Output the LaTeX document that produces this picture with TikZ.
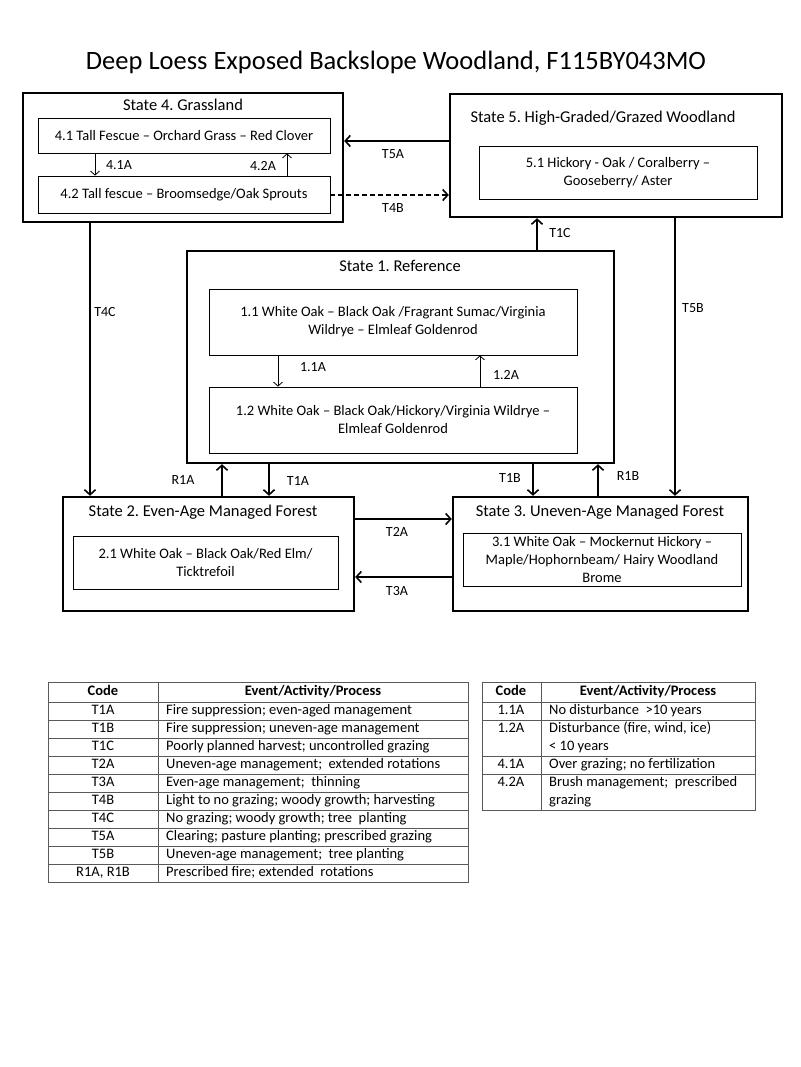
\documentclass[tikz,border=0pt]{standalone}
\usepackage{fontspec}
\setmainfont{Carlito}
\usetikzlibrary{arrows.meta}
\frenchspacing
\begin{document}
\begin{tikzpicture}[x=1pt, y=-1pt,
  state/.style={draw, line width=2.4pt, inner sep=0pt},
  sub/.style={draw, line width=0.8pt, inner sep=0pt, align=center, font=\fontsize{14.5}{18}\selectfont},
  stitle/.style={font=\fontsize{16.5}{19}\selectfont},
  lbl/.style={font=\fontsize{14}{16}\selectfont},
  cell/.style={font=\fontsize{14.5}{17}\selectfont, inner sep=0pt, text height=9.5pt, text depth=3pt},
  trans/.style={line width=1.6pt, -{Straight Barb[length=5pt,width=11pt]}},
  phase/.style={line width=0.8pt, -{Straight Barb[length=4pt,width=9pt]}},
  tline/.style={draw=black!65, line width=1pt}]
		\fill[white] (0,0) rectangle (800,1067);
		\useasboundingbox (0,0) rectangle (800,1067);
		\node (title) at (396,62) {\fontsize{26.5}{30}\selectfont Deep Loess Exposed Backslope Woodland, F115BY043MO};
		\node[state, minimum width=320pt, minimum height=129pt] (S4) at (183,157.5) {};
		\node[stitle] (S4t) at (183,105) {State 4. Grassland};
		\node[sub, minimum width=292pt, minimum height=35pt] (B41) at (184,135.5) {4.1 Tall Fescue – Orchard Grass – Red Clover};
		\node[sub, minimum width=292pt, minimum height=37pt] (B42) at (184,194.5) {4.2 Tall fescue – Broomsedge/Oak Sprouts};
		\node[state, minimum width=332pt, minimum height=123pt] (S5) at (616,155.5) {};
		\node[stitle] (S5t) at (603,118) {State 5. High-Graded/Grazed Woodland};
		\node[sub, minimum width=278pt, minimum height=53pt] (B51) at (618,172.5) {5.1 Hickory - Oak / Coralberry –\\Gooseberry/ Aster};
		\node[state, minimum width=427pt, minimum height=212pt] (S1) at (400.5,357) {};
		\node[stitle] (S1t) at (400,266) {State 1. Reference};
		\node[sub, minimum width=368pt, minimum height=66pt] (B11) at (393,322) {1.1 White Oak – Black Oak /Fragrant Sumac/Virginia\\Wildrye – Elmleaf Goldenrod};
		\node[sub, minimum width=368pt, minimum height=66pt] (B12) at (393,420) {1.2 White Oak – Black Oak/Hickory/Virginia Wildrye –\\Elmleaf Goldenrod};
		\node[state, minimum width=291pt, minimum height=114pt] (S2) at (208.5,554) {};
		\node[stitle] (S2t) at (203,512) {State 2. Even-Age Managed Forest};
		\node[sub, minimum width=265pt, minimum height=53pt] (B21) at (205.5,562.5) {2.1 White Oak – Black Oak/Red Elm/\\Ticktrefoil};
		\node[state, minimum width=295pt, minimum height=114pt] (S3) at (600.5,554) {};
		\node[stitle] (S3t) at (600,512) {State 3. Uneven-Age Managed Forest};
		\node[sub, minimum width=278pt, minimum height=53pt] (B31) at (602,559.5) {3.1 White Oak – Mockernut Hickory –\\Maple/Hophornbeam/ Hairy Woodland\\Brome};
		\coordinate (a41) at (95,0);
		\coordinate (a42) at (287,0);
		\coordinate (a11) at (278,0);
		\coordinate (a12) at (480,0);
		\coordinate (r1a) at (222,0);
		\coordinate (t1a) at (269,0);
		\coordinate (t1b) at (533,0);
		\coordinate (r1b) at (598,0);
		\coordinate (t1c) at (537,0);
		\coordinate (t5b) at (675,0);
		\coordinate (t4c) at (90,0);
		\coordinate (t5a) at (0,141);
		\coordinate (t4b) at (0,195);
		\coordinate (t2a) at (0,519);
		\coordinate (t3a) at (0,577);
		\draw[phase] (B41.south -| a41) -- (B42.north -| a41);
		\draw[phase] (B42.north -| a42) -- (B41.south -| a42);
		\draw[phase] (B11.south -| a11) -- (B12.north -| a11);
		\draw[phase] (B12.north -| a12) -- (B11.south -| a12);
		\draw[trans] (S5.west |- t5a) -- (S4.east |- t5a);
		\draw[trans, dash pattern=on 5pt off 3pt] (B42.east |- t4b) -- (S5.west |- t4b);
		\draw[trans] (S1.north -| t1c) -- (S5.south -| t1c);
		\draw[trans] (S5.south -| t5b) -- (S3.north -| t5b);
		\draw[trans] (S4.south -| t4c) -- (S2.north -| t4c);
		\draw[trans] (S2.north -| r1a) -- (S1.south -| r1a);
		\draw[trans] (S1.south -| t1a) -- (S2.north -| t1a);
		\draw[trans] (S1.south -| t1b) -- (S3.north -| t1b);
		\draw[trans] (S3.north -| r1b) -- (S1.south -| r1b);
		\draw[trans] (S2.east |- t2a) -- (S3.west |- t2a);
		\draw[trans] (S3.west |- t3a) -- (S2.east |- t3a);
		\node[lbl] (l41) at (119,165) {4.1A};
		\node[lbl] (l42) at (263,166) {4.2A};
		\node[lbl] (l11) at (313,367) {1.1A};
		\node[lbl] (l12) at (506,375) {1.2A};
		\node[lbl] (lt5a) at (393,154) {T5A};
		\node[lbl] (lt4b) at (393,208) {T4B};
		\node[lbl] (lt1c) at (560,233) {T1C};
		\node[lbl] (lt5b) at (693,308) {T5B};
		\node[lbl] (lt4c) at (105,312) {T4C};
		\node[lbl] (lr1a) at (183,480) {R1A};
		\node[lbl] (lt1a) at (298,481) {T1A};
		\node[lbl] (lt1b) at (510,478) {T1B};
		\node[lbl] (lr1b) at (628,476) {R1B};
		\node[lbl] (lt2a) at (397,532) {T2A};
		\node[lbl] (lt3a) at (397,591) {T3A};
		\draw[tline] (48,682) rectangle (468,882);
		\draw[tline] (158,682) -- (158,882);
		\draw[tline] (48,702) -- (468,702) (48,720) -- (468,720) (48,738) -- (468,738) (48,756) -- (468,756) (48,774) -- (468,774) (48,792) -- (468,792) (48,810) -- (468,810) (48,828) -- (468,828) (48,846) -- (468,846) (48,864) -- (468,864);
		\node[cell, font=\fontsize{14.5}{17}\selectfont\bfseries] (h1) at (103,692) {Code};
		\node[cell, font=\fontsize{14.5}{17}\selectfont\bfseries] (h2) at (313,692) {Event/Activity/Process};
		\node[cell] (c1) at (103,711) {T1A};
		\node[cell] (c2) at (103,729) {T1B};
		\node[cell] (c3) at (103,747) {T1C};
		\node[cell] (c4) at (103,765) {T2A};
		\node[cell] (c5) at (103,783) {T3A};
		\node[cell] (c6) at (103,801) {T4B};
		\node[cell] (c7) at (103,819) {T4C};
		\node[cell] (c8) at (103,837) {T5A};
		\node[cell] (c9) at (103,855) {T5B};
		\node[cell] (c10) at (103,873) {R1A, R1B};
		\node[cell, anchor=west] (e1) at (166,711) {Fire suppression; even-aged management};
		\node[cell, anchor=west] (e2) at (166,729) {Fire suppression; uneven-age management};
		\node[cell, anchor=west] (e3) at (166,747) {Poorly planned harvest; uncontrolled grazing};
		\node[cell, anchor=west] (e4) at (166,765) {Uneven-age management;\ \ extended rotations};
		\node[cell, anchor=west] (e5) at (166,783) {Even-age management;\ \ thinning};
		\node[cell, anchor=west] (e6) at (166,801) {Light to no grazing; woody growth; harvesting};
		\node[cell, anchor=west] (e7) at (166,819) {No grazing; woody growth; tree\ \ planting};
		\node[cell, anchor=west] (e8) at (166,837) {Clearing; pasture planting; prescribed grazing};
		\node[cell, anchor=west] (e9) at (166,855) {Uneven-age management;\ \ tree planting};
		\node[cell, anchor=west] (e10) at (166,873) {Prescribed fire; extended\ \ rotations};
		\draw[tline] (482,682) rectangle (755,810);
		\draw[tline] (541,682) -- (541,810);
		\draw[tline] (482,702) -- (755,702) (482,720) -- (755,720) (482,756) -- (755,756) (482,774) -- (755,774);
		\node[cell, font=\fontsize{14.5}{17}\selectfont\bfseries] (h3) at (511,692) {Code};
		\node[cell, font=\fontsize{14.5}{17}\selectfont\bfseries] (h4) at (648,692) {Event/Activity/Process};
		\node[cell] (d1) at (511,711) {1.1A};
		\node[cell] (d2) at (511,729) {1.2A};
		\node[cell] (d3) at (511,765) {4.1A};
		\node[cell] (d4) at (511,783) {4.2A};
		\node[cell, anchor=west] (f1) at (549,711) {No disturbance\ \ >10 years};
		\node[cell, anchor=west] (f2) at (549,729) {Disturbance (fire, wind, ice)};
		\node[cell, anchor=west] (f2b) at (549,747) {< 10 years};
		\node[cell, anchor=west] (f3) at (549,765) {Over grazing; no fertilization};
		\node[cell, anchor=west] (f4) at (549,783) {Brush management;\ \ prescribed};
		\node[cell, anchor=west] (f4b) at (549,801) {grazing};
	\end{tikzpicture}
\end{document}
